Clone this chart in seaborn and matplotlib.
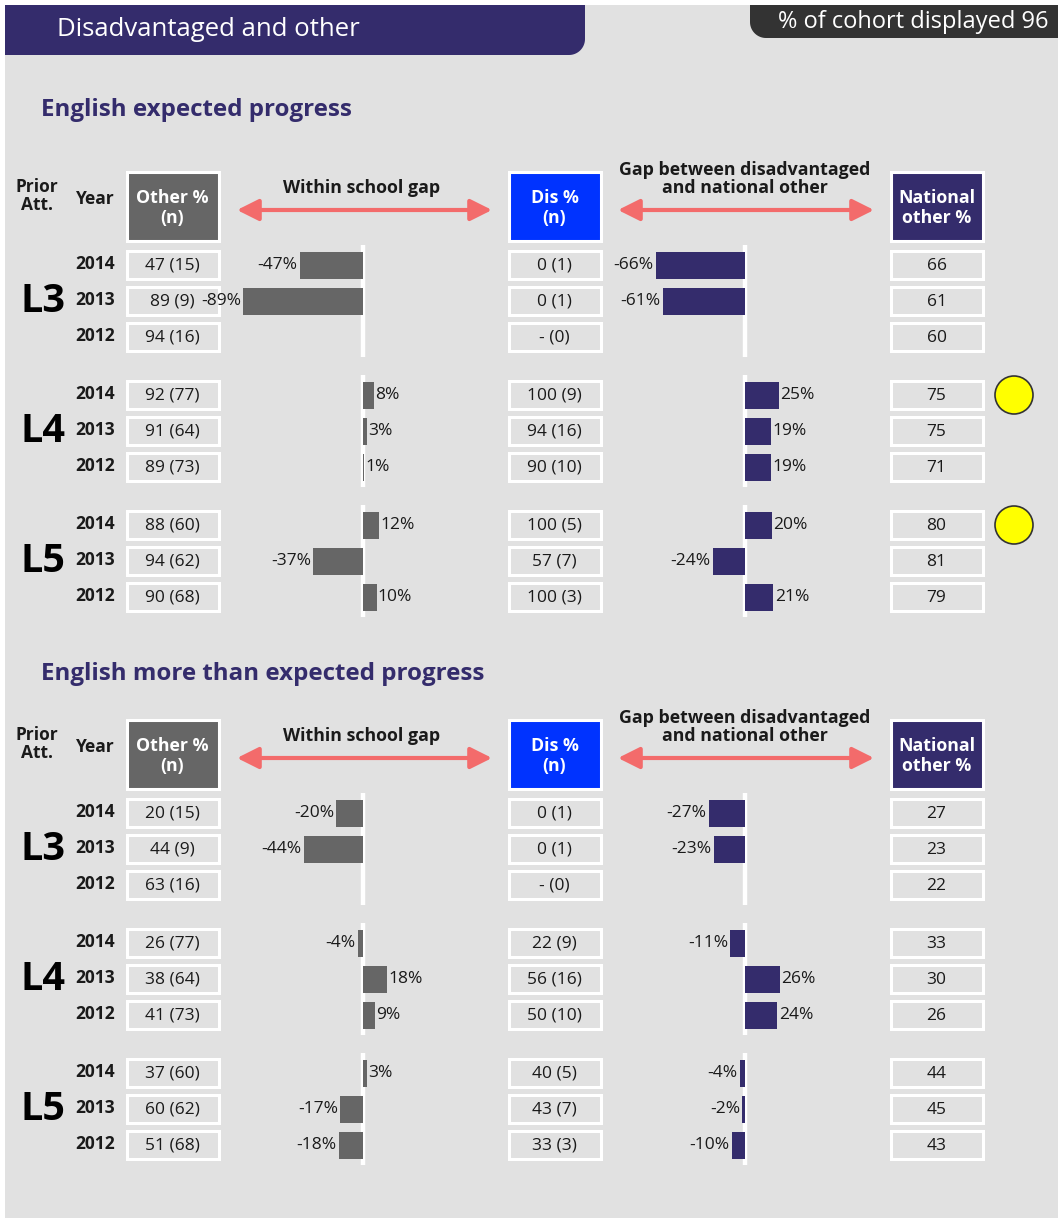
import numpy as np
import pandas as pd
import matplotlib
matplotlib.use('Agg')
import matplotlib.pyplot as plt
from matplotlib.patches import Rectangle, Polygon, Circle
import seaborn as sns

sns.set_style('white')
plt.rcParams['font.family'] = ['Open Sans', 'DejaVu Sans']

# data
years = ['2014', '2013', '2012']
groups = ['L3', 'L4', 'L5']

sections = ['English expected progress', 'English more than expected progress']

# section 1 - expected progress
ep_other = ['47 (15)', '89 (9)', '94 (16)', '92 (77)', '91 (64)', '89 (73)', '88 (60)', '94 (62)', '90 (68)']
ep_within_gap = [-47, -89, np.nan, 8, 3, 1, 12, -37, 10]
ep_dis = ['0 (1)', '0 (1)', '- (0)', '100 (9)', '94 (16)', '90 (10)', '100 (5)', '57 (7)', '100 (3)']
ep_dis_gap = [-66, -61, np.nan, 25, 19, 19, 20, -24, 21]
ep_national = ['66', '61', '60', '75', '75', '71', '80', '81', '79']
ep_flag = [False, False, False, True, False, False, True, False, False]

# section 2 - more than expected progress
mep_other = ['20 (15)', '44 (9)', '63 (16)', '26 (77)', '38 (64)', '41 (73)', '37 (60)', '60 (62)', '51 (68)']
mep_within_gap = [-20, -44, np.nan, -4, 18, 9, 3, -17, -18]
mep_dis = ['0 (1)', '0 (1)', '- (0)', '22 (9)', '56 (16)', '50 (10)', '40 (5)', '43 (7)', '33 (3)']
mep_dis_gap = [-27, -23, np.nan, -11, 26, 24, -4, -2, -10]
mep_national = ['27', '23', '22', '33', '30', '26', '44', '45', '43']
mep_flag = [False] * 9

section_data = [
    (ep_other, ep_within_gap, ep_dis, ep_dis_gap, ep_national, ep_flag),
    (mep_other, mep_within_gap, mep_dis, mep_dis_gap, mep_national, mep_flag),
]

# colours
BG = '#e1e1e1'
PURPLE = '#342c6c'
GREY_BAR = '#666666'
BLUE = '#0033ff'
ARROW = '#f36b6b'
TXT = '#1a1a1a'

W, H = 1058, 1218
fig = plt.figure(figsize=(W / 100, H / 100), dpi=100)
fig.patch.set_facecolor('white')
ax = fig.add_axes([0, 0, 1, 1])
ax.set_xlim(0, W)
ax.set_ylim(H, 0)
ax.axis('off')

ax.add_patch(Rectangle((5, 5), W, H, facecolor=BG, edgecolor='none'))


def rounded_banner(x0, x1, y0, y1, r, corner, color):
    # rectangle with one rounded bottom corner
    t = np.linspace(0, np.pi / 2, 20)
    if corner == 'right':
        arc = [(x1 - r + r * np.cos(a), y1 - r + r * np.sin(a)) for a in t]
        pts = [(x0, y0), (x1, y0)] + arc + [(x0, y1)]
    else:
        arc = [(x0 + r - r * np.cos(a), y1 - r + r * np.sin(a)) for a in t[::-1]]
        pts = [(x0, y0), (x1, y0), (x1, y1)] + arc
    ax.add_patch(Polygon(pts, closed=True, facecolor=color, edgecolor='none'))


rounded_banner(5, 585, 5, 55, 16, 'right', PURPLE)
ax.text(57, 29, 'Disadvantaged and other', color='white', fontsize=18.5, va='center', ha='left')
rounded_banner(750, W, 5, 38, 16, 'left', '#333333')
ax.text(1049, 22, '% of cohort displayed 96', color='white', fontsize=17, va='center', ha='right')


def cell(x0, x1, yc, text, h=31):
    ax.add_patch(Rectangle((x0 + 1.5, yc - h / 2 + 1.5), x1 - x0 - 3, h - 3,
                           facecolor='none', edgecolor='white', lw=2.2))
    ax.text((x0 + x1) / 2, yc + 1, text, fontsize=12.5, color=TXT, ha='center', va='center')


def head_box(x0, x1, y0, y1, text, color):
    ax.add_patch(Rectangle((x0 + 1.5, y0 + 1.5), x1 - x0 - 3, y1 - y0 - 3,
                           facecolor=color, edgecolor='white', lw=2.2))
    ax.text((x0 + x1) / 2, (y0 + y1) / 2 + 2, text, fontsize=12.8, color='white',
            fontweight='bold', ha='center', va='center', linespacing=1.08)


def arrow(x0, x1, y):
    ax.annotate('', xy=(x0, y), xytext=(x1, y),
                arrowprops=dict(arrowstyle='<|-|>,head_length=1.3,head_width=0.65',
                                color=ARROW, lw=3, shrinkA=0, shrinkB=0))


PX_PER_PCT = 1.35
COLS = {'other': (125, 220), 'dis': (507, 602), 'nat': (889, 984)}
GAPS = {'within': (237, 492, 363), 'dis': (618, 874, 745)}


def bar_axes(vals, y_first, gap, color):
    x0, x1, zero = GAPS[gap]
    top, bot = y_first - 20, y_first + 72 + 20
    bax = fig.add_axes([x0 / W, 1 - bot / H, (x1 - x0) / W, (bot - top) / H])
    df = pd.DataFrame({'year': years, 'gap': vals})
    bax.axvline(0, color='white', lw=3.2, zorder=0)
    sns.barplot(data=df, x='gap', y='year', order=years, orient='h', color=color,
                saturation=1, width=0.75, linewidth=0, edgecolor='none', ax=bax, zorder=2)
    bax.set_xlim((x0 - zero) / PX_PER_PCT, (x1 - zero) / PX_PER_PCT)
    bax.set_ylim(2 + 20 / 36, -20 / 36)
    bax.axis('off')
    bax.patch.set_alpha(0)
    for i, v in enumerate(vals):
        if np.isnan(v):
            continue
        off = 1 if v > 0 else -1.5
        bax.annotate(f'{v:.0f}%', xy=(v, i), xytext=(off, 0), textcoords='offset points',
                     ha='left' if v > 0 else 'right', va='center', fontsize=12.5, color=TXT)


title_y = [110, 674]
for s, title in enumerate(sections):
    so = 548 * s
    other, wgap, dis, dgap, nat, flag = section_data[s]
    ax.text(41, title_y[s], title, color=PURPLE, fontsize=17.4, fontweight='bold', va='center')

    ax.text(37, 196 + so, 'Prior\nAtt.', fontsize=12.5, fontweight='bold', color=TXT,
            ha='center', va='center', linespacing=0.95)
    ax.text(95, 199 + so, 'Year', fontsize=12.5, fontweight='bold', color=TXT, ha='center', va='center')
    head_box(125, 220, 170 + so, 242 + so, 'Other %\n(n)', '#666666')
    head_box(507, 602, 170 + so, 242 + so, 'Dis %\n(n)', BLUE)
    head_box(889, 984, 170 + so, 242 + so, 'National\nother %', PURPLE)
    ax.text(362, 188 + so, 'Within school gap', fontsize=12.8, fontweight='bold', color=TXT,
            ha='center', va='center')
    ax.text(745, 179 + so, 'Gap between disadvantaged\nand national other', fontsize=12.8,
            fontweight='bold', color=TXT, ha='center', va='center', linespacing=0.95)
    arrow(237, 492, 210 + so)
    arrow(618, 874, 210 + so)

    for g, grp in enumerate(groups):
        y_first = 265 + so + 130 * g
        ax.text(43, y_first + 36, grp, fontsize=28.5, fontweight='bold', color='black',
                ha='center', va='center')
        for i, yr in enumerate(years):
            k = 3 * g + i
            yc = y_first + 36 * i
            ax.text(95, yc - 1, yr, fontsize=12.5, fontweight='bold', color=TXT, ha='center', va='center')
            cell(*COLS['other'], yc, other[k])
            cell(*COLS['dis'], yc, dis[k])
            cell(*COLS['nat'], yc, nat[k])
            if flag[k]:
                ax.add_patch(Circle((1014, yc), 19, facecolor='#ffff00', edgecolor='#333333', lw=1.2))
        bar_axes(wgap[3 * g:3 * g + 3], y_first, 'within', GREY_BAR)
        bar_axes(dgap[3 * g:3 * g + 3], y_first, 'dis', PURPLE)

fig.savefig('out.png', dpi=100, facecolor=fig.get_facecolor())
